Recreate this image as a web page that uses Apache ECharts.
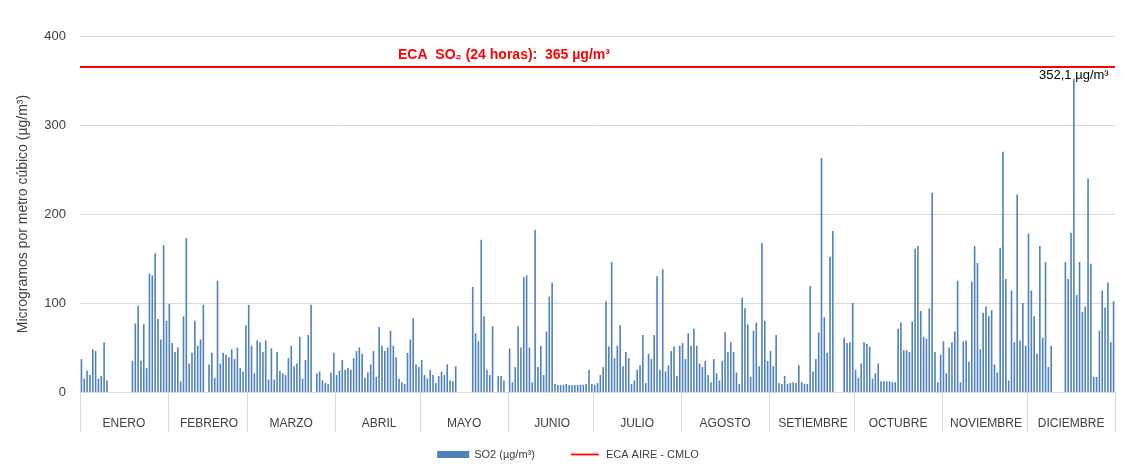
<!DOCTYPE html>
<html>
<head>
<meta charset="utf-8">
<script src="https://cdn.jsdelivr.net/npm/echarts@6/dist/echarts.min.js"></script>
<style>
  html, body { margin: 0; padding: 0; background: #fff; }
  #chart { width: 1136px; height: 468px; }
</style>
</head>
<body>
<div id="chart"></div>
<script>
// valores diarios de SO2 (µg/m³), null = sin dato
const meses = ['ENERO', 'FEBRERO', 'MARZO', 'ABRIL', 'MAYO', 'JUNIO', 'JULIO', 'AGOSTO', 'SETIEMBRE', 'OCTUBRE', 'NOVIEMBRE', 'DICIEMBRE'];
const ene = [37, 15, 24, 19, 48, 46, 15, 18, 56, 13, null, null, null, null, null, null, null, null, 35, 77, 97, 35, 76, 27, 133, 131, 156, 82, 59, 165, 80];
const feb = [99, 55, 45, 50, 12, 85, 173, 32, 44, 80, 52, 59, 98, null, 31, 44, 16, 125, 32, 44, 42, 39, 48, 37, 50, 27, 23, 75];
const mar = [98, 52, 21, 58, 56, 45, 58, 14, 49, 14, 45, 24, 21, 19, 38, 52, 29, 32, 62, 15, 36, 64, 98, null, 21, 23, 13, 10, 9, 22, 44];
const abr = [19, 24, 36, 25, 27, 25, 38, 46, 50, 43, 16, 22, 31, 46, 17, 73, 52, 46, 50, 69, 52, 39, 15, 11, 9, 44, 59, 83, 31, 28];
const may = [36, 19, 15, 25, 19, 10, 18, 23, 19, 31, 13, 12, 29, null, null, null, null, null, 118, 66, 57, 171, 85, 25, 19, 74, null, 18, 18, 13, null];
const jun = [49, 11, 28, 74, 50, 129, 131, 50, 11, 182, 28, 52, 19, 68, 107, 123, 9, 8, 8, 8, 9, 8, 8, 8, 8, 8, 8, 9, 25, 9];
const jul = [8, 10, 19, 28, 102, 51, 146, 38, 52, 75, 29, 45, 38, 9, 13, 25, 30, 64, 10, 43, 37, 64, 130, 25, 138, 23, 30, 46, 51, 18, 52];
const ago = [55, 37, 66, 52, 71, 52, 32, 28, 35, 19, 11, 37, 21, 13, 35, 67, 45, 56, 45, 22, 9, 106, 94, 76, 17, 69, 78, 29, 167, 80, 35];
const sep = [46, 29, 64, 10, 9, 18, 9, 10, 11, 10, 30, 11, 9, 9, 119, 23, 37, 67, 263, 84, 44, 152, 181, null, null, null, 61, 55, 56, 100];
const oct = [25, 16, 32, 56, 54, 51, 15, 21, 32, 12, 12, 12, 12, 11, 11, 71, 78, 47, 47, 45, 79, 161, 164, 91, 62, 60, 94, 224, 45, 11, 42];
const nov = [57, 21, 50, 56, 68, 125, 11, 57, 58, 34, 124, 164, 145, 48, 89, 96, 85, 92, 31, 22, 162, 270, 127, 13, 114, 56, 222, 58, 100, 52];
const dic = [178, 114, 85, 43, 164, 61, 146, 28, 52, null, null, null, null, 146, 127, 179, 352.1, 109, 146, 90, 96, 240, 144, 17, 17, 69, 114, 95, 123, 56, 102];
const eca = 365;

const porMes = [ene, feb, mar, abr, may, jun, jul, ago, sep, oct, nov, dic];

let dias = [];
let so2 = [];
let inicioMes = {};   // indice del primer dia de cada mes
let centroMes = {};   // indice donde va la etiqueta del mes
porMes.forEach((arr, m) => {
    inicioMes[dias.length] = m;
    centroMes[dias.length + Math.floor(arr.length / 2)] = m;
    arr.forEach((v, d) => {
        dias.push((d + 1) + '/' + (m + 1));
        so2.push(v);
    });
});

var myChart = echarts.init(document.getElementById('chart'));
const gris = '#d9d9d9';
const texto = '#404040';
const fuente = 'Liberation Sans, Arial, sans-serif';

var option = {
    animation: false,
    textStyle: { fontFamily: fuente },
    grid: { left: 80, right: 21, top: 36, bottom: 76 },
    legend: {
        bottom: 3,
        left: 'center',
        itemWidth: 32,
        itemHeight: 7,
        itemGap: 36,
        textStyle: { fontSize: 11, color: texto },
        data: [
            { name: 'SO2 (µg/m³)', icon: 'rect' },
            // linea delgada sin simbolo
            { name: 'ECA AIRE - CMLO', icon: 'path://M0,0 L0,0 M0,3 L32,3 L32,5 L0,5 Z M0,8 L0,8' }
        ]
    },
    xAxis: {
        type: 'category',
        data: dias,
        axisLine: { lineStyle: { color: gris } },
        axisTick: {
            show: true,
            length: 40,
            interval: (i) => inicioMes[i] !== undefined,
            lineStyle: { color: gris }
        },
        axisLabel: {
            interval: (i) => centroMes[i] !== undefined,
            formatter: (v, i) => meses[centroMes[i]],
            margin: 26,
            fontSize: 12,
            color: texto
        }
    },
    yAxis: {
        type: 'value',
        min: 0,
        max: 400,
        interval: 100,
        name: 'Microgramos por metro cúbico (µg/m³)',
        nameLocation: 'middle',
        nameGap: 50,
        nameTextStyle: { fontSize: 14, color: texto },
        axisLine: { show: false },
        axisTick: { show: false },
        axisLabel: { fontSize: 13, color: texto, margin: 14 },
        splitLine: { lineStyle: { color: gris } }
    },
    series: [
        {
            name: 'SO2 (µg/m³)',
            type: 'bar',
            data: so2,
            barWidth: 1.6,
            itemStyle: { color: '#4f81bd' },
            markPoint: {
                symbol: 'rect',
                symbolSize: 0,
                data: [{ type: 'max' }],
                label: {
                    show: true,
                    position: 'top',
                    distance: -3,
                    formatter: (p) => String(p.value).replace('.', ',') + ' µg/m³',
                    fontSize: 13,
                    color: '#000'
                }
            }
        },
        {
            name: 'ECA AIRE - CMLO',
            type: 'line',
            data: [],
            symbol: 'none',
            itemStyle: { color: '#ff0000' },
            lineStyle: { color: '#ff0000', width: 2 },
            markLine: {
                silent: true,
                symbol: 'none',
                label: { show: false },
                lineStyle: { color: '#ff0000', width: 2, type: 'solid' },
                data: [{ yAxis: eca }]
            }
        }
    ],
    graphic: [
        {
            type: 'text',
            left: 398,
            top: 48,
            style: {
                text: 'ECA  SO₂ (24 horas):  ' + eca + ' µg/m³',
                fontSize: 14,
                fontWeight: 'bold',
                fill: '#ff0000',
                fontFamily: fuente
            }
        }
    ]
};

option && myChart.setOption(option);
</script>
</body>
</html>
